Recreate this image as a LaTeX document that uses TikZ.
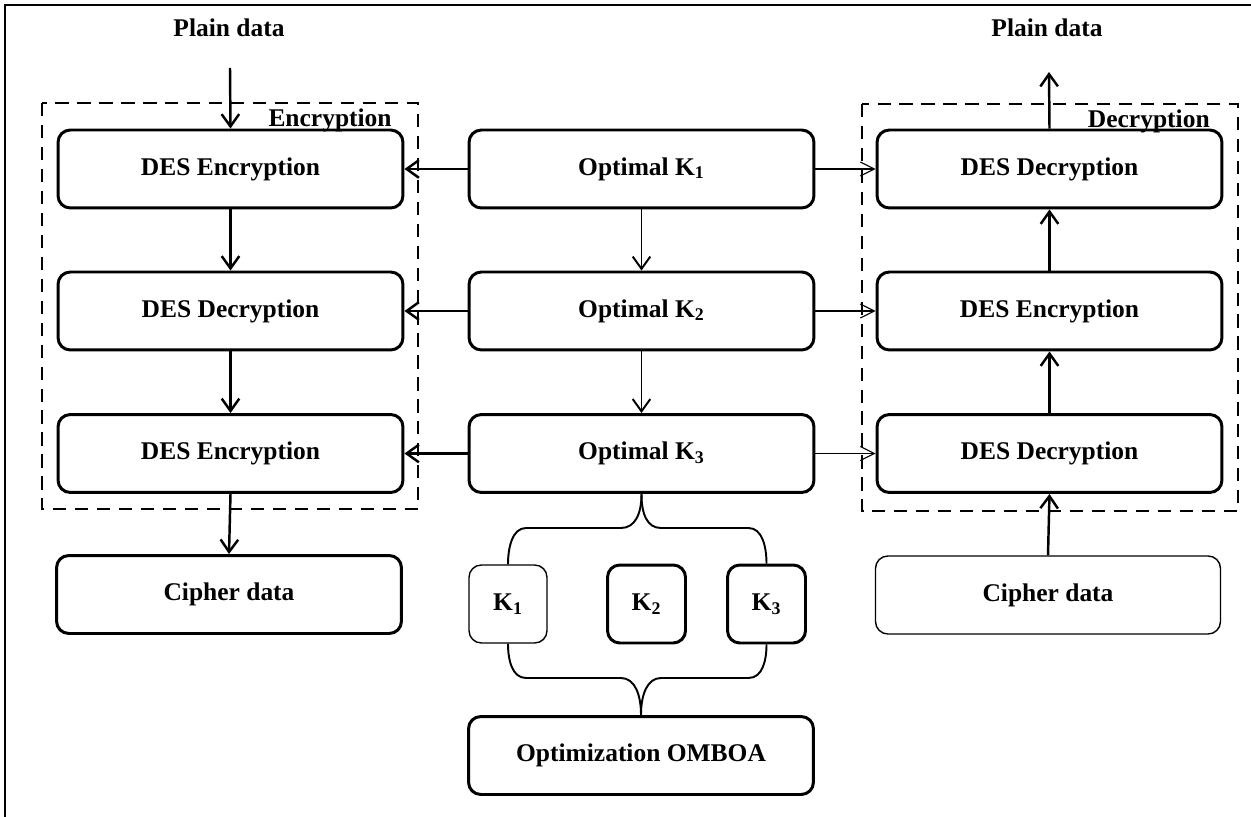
\documentclass[tikz,border=0pt]{standalone}
\usepackage{fontspec}
\setmainfont{Liberation Serif}
\usepackage{tikz}
\usetikzlibrary{
arrows.meta,
calc
}

\begin{document}
\begin{tikzpicture}[x=0.02cm,y=-0.02cm,
        box/.style={draw, rounded corners=7pt, line width=1.7pt, minimum width=6.9cm, minimum height=1.56cm, inner sep=0pt, font=\bfseries\fontsize{14.5}{17}\selectfont},
        thinbox/.style={box, line width=0.8pt},
        keybox/.style={box, minimum width=1.56cm},
        lbl/.style={inner sep=0pt, font=\bfseries\fontsize{14.5}{17}\selectfont},
        boldarrow/.style={-{Straight Barb[length=7pt,width=10pt]}, line width=1.4pt},
        midarrow/.style={-{Straight Barb[length=7pt,width=10pt]}, line width=1.1pt},
        thinarrow/.style={-{Straight Barb[length=8pt,width=8pt]}, line width=0.6pt},
        dashbox/.style={dash pattern=on 7.5pt off 5pt, line width=1.6pt},
        bracepath/.style={line width=1.1pt}]
        \useasboundingbox (0,0) rectangle (1251,817);
        \draw[line width=1.6pt] (1251,5) -- (5,5) -- (5,817);
        \draw[dashbox] (42,103) rectangle (418,509);
        \draw[dashbox] (862,104) rectangle (1238,511);
        \node[lbl] (plainL) at (229,28) {Plain data};
        \node[lbl] (plainR) at (1047,28) {Plain data};
        \node[lbl, anchor=base east] (enclbl) at (392,127) {Encryption};
        \node[lbl, anchor=base east] (declbl) at (1210,128) {Decryption};
        \node[box] (encA) at (230.5,169) {DES Encryption};
        \node[box] (decB) at (230.5,311) {DES Decryption};
        \node[box] (encC) at (230.5,453.5) {DES Encryption};
        \node[box] (cipherL) at (229,594.5) {Cipher data};
        \node[box] (optA) at (641.5,169) {Optimal K\textsubscript{1}};
        \node[box] (optB) at (641.5,311) {Optimal K\textsubscript{2}};
        \node[box] (optC) at (641.5,453.5) {Optimal K\textsubscript{3}};
        \node[box] (omboa) at (641,755.5) {Optimization OMBOA};
        \node[box] (decA) at (1049.5,169) {DES Decryption};
        \node[box] (encB) at (1049.5,311) {DES Encryption};
        \node[box] (decC) at (1049.5,453.5) {DES Decryption};
        \node[thinbox] (cipherR) at (1048,595) {Cipher data};
        \node[keybox, line width=0.8pt] (kone) at (508,604) {K\textsubscript{1}};
        \node[keybox] (ktwo) at (646.5,604) {K\textsubscript{2}};
        \node[keybox] (kthree) at (766.5,604) {K\textsubscript{3}};
        \coordinate (inL) at (230,68);
        \coordinate (outR) at (1049,72);
        \coordinate (topbar) at (641,528);
        \coordinate (botbar) at (641,678);
        \draw[boldarrow] (inL) -- (encA.north);
        \draw[boldarrow] (encA.south) -- (decB.north);
        \draw[boldarrow] (decB.south) -- (encC.north);
        \draw[boldarrow] (encC.south) -- (cipherL.north);
        \draw[boldarrow] (optA.west) -- (encA.east);
        \draw[boldarrow] (optB.west) -- (decB.east);
        \draw[boldarrow] (optC.west) -- (encC.east);
        \draw[midarrow] (optA.south) -- (optB.north);
        \draw[midarrow] (optB.south) -- (optC.north);
        \draw[thinarrow] (optA.east) -- (decA.west);
        \draw[thinarrow] (optB.east) -- (encB.west);
        \draw[thinarrow] (optC.east) -- (decC.west);
        \draw[boldarrow] (cipherR.north) -- (decC.south);
        \draw[boldarrow] (decC.north) -- (encB.south);
        \draw[boldarrow] (encB.north) -- (decA.south);
        \draw[boldarrow] (decA.north) -- (outR);
        \draw[bracepath] (optC.south) .. controls +(0,20) and +(14,0) .. ($(topbar)+(-20,0)$) -- ($(kone.north |- topbar)+(18,0)$) .. controls +(-14,0) and +(0,-16) .. (kone.north);
        \draw[bracepath] (optC.south) .. controls +(0,20) and +(-14,0) .. ($(topbar)+(20,0)$) -- ($(kthree.north |- topbar)+(-18,0)$) .. controls +(14,0) and +(0,-16) .. (kthree.north);
        \draw[bracepath] (omboa.north) .. controls +(0,-20) and +(14,0) .. ($(botbar)+(-20,0)$) -- ($(kone.south |- botbar)+(18,0)$) .. controls +(-14,0) and +(0,16) .. (kone.south);
        \draw[bracepath] (omboa.north) .. controls +(0,-20) and +(-14,0) .. ($(botbar)+(20,0)$) -- ($(kthree.south |- botbar)+(-18,0)$) .. controls +(14,0) and +(0,16) .. (kthree.south);
    \end{tikzpicture}
\end{document}
